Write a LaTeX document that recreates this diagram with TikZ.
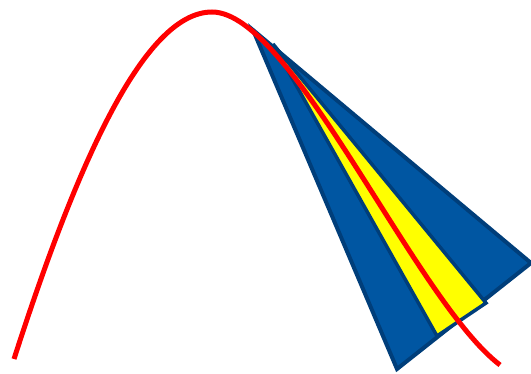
\documentclass[tikz,border=0pt]{standalone}
\definecolor{bluefill}{RGB}{0,86,162}
\definecolor{blueline}{RGB}{0,62,122}
\definecolor{pureyellow}{RGB}{255,255,0}
\definecolor{purered}{RGB}{255,0,0}
\tikzset{
  wedge/.style={fill=bluefill, draw=blueline, line width=4pt, line join=miter},
  beam/.style={fill=pureyellow, draw=blueline, line width=3.5pt, line join=miter},
  curve/.style={draw=purered, line width=5pt}
}
\begin{document}
\begin{tikzpicture}[x=1pt,y=-1pt]
\useasboundingbox (0,0) rectangle (531,374);
\coordinate (apex) at (253,30);
\coordinate (bl) at (397,369);
\coordinate (br) at (531,263);
\coordinate (yapex) at (273,44);
\coordinate (yl) at (437,336);
\coordinate (yr) at (486,303);
\coordinate (cstart) at (14,359);
\coordinate (cpeak) at (212,12);
\coordinate (cend) at (500,365);
\path[wedge] (apex) -- (bl) -- (br) -- cycle;
\path[beam] (yapex) -- (yl) -- (yr) -- cycle;
\draw[curve] (cstart) .. controls (74,173) and (142,12) .. (cpeak)
  .. controls (292,12) and (415,300) .. (cend);
\end{tikzpicture}
\end{document}
